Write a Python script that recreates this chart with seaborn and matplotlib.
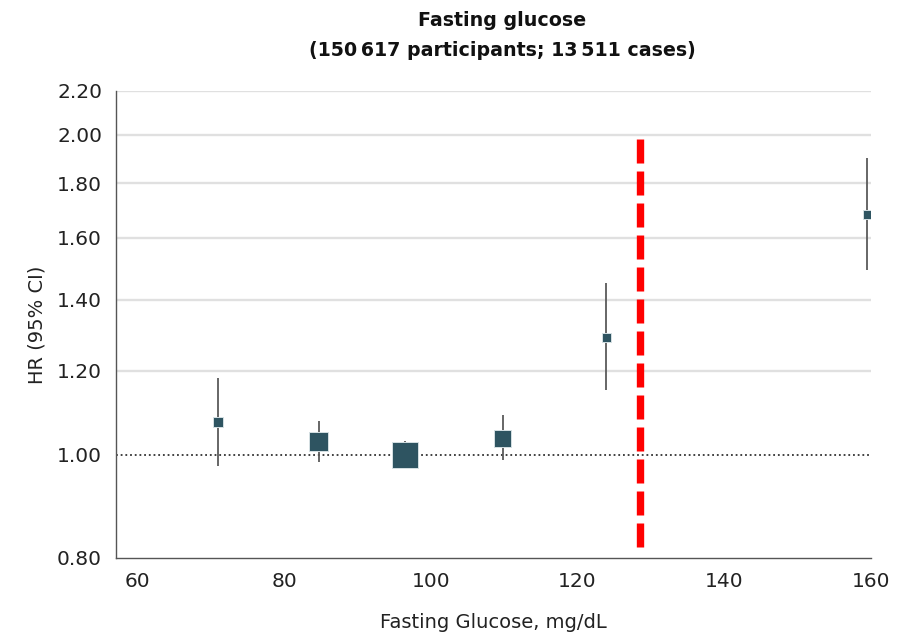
import matplotlib
matplotlib.use("Agg")
import matplotlib.pyplot as plt
import matplotlib.ticker as mticker
import pandas as pd
import seaborn as sns

# glucose categories (median of each group, mg/dL)
glucose = [71.0, 84.7, 96.5, 109.8, 123.9, 159.5]
hr = [1.074, 1.030, 1.000, 1.037, 1.290, 1.683]
ci_low = [0.976, 0.985, 0.972, 0.989, 1.150, 1.491]
ci_high = [1.180, 1.076, 1.030, 1.090, 1.450, 1.900]
# relative weight of each estimate (drawn as marker area)
weight = [14, 51, 100, 41, 11, 10]

threshold = 128.5
y_ticks = [0.80, 1.00, 1.20, 1.40, 1.60, 1.80, 2.00, 2.20]
x_ticks = [60, 80, 100, 120, 140, 160]

title_main = "Fasting glucose"
title_sub = "(150\u2009617 participants; 13\u2009511 cases)"

df = pd.DataFrame({"glucose": glucose, "hr": hr, "lo": ci_low, "hi": ci_high, "weight": weight})

sns.set_style("white")
plt.rcParams["font.family"] = ["DejaVu Sans"]

fig = plt.figure(figsize=(9, 6.38), dpi=100)
ax = fig.add_axes([0.1289, 0.1254, 0.8389, 0.7324])
ax.set_yscale("log")
ax.set_xlim(57.1, 160)
ax.set_ylim(0.80, 2.20)

# light horizontal gridlines above the reference line
grid_vals = [t for t in y_ticks if t > 1.0]
ax.hlines(grid_vals, 57.1, 160, color="#e0e0e0", lw=1.7, zorder=0)
ax.axhline(1.0, color="#333333", lw=1.3, ls=(0, (1, 1.6)), zorder=1)

# confidence intervals
ax.vlines(df["glucose"], df["lo"], df["hi"], color="#5a5a5a", lw=1.3, zorder=2)

sns.scatterplot(data=df, x="glucose", y="hr", size="weight", sizes=(0, 364),
                size_norm=(0, 100), marker="s", color="#2e5461",
                edgecolor="#d5e0e3", linewidth=0.7, legend=False, zorder=3, ax=ax)

ax.axvline(threshold, ymin=0.024, ymax=0.896, color="#ff0000", lw=5.3,
           ls=(0, (3.26, 1.087)), zorder=4)

ax.set_yticks(y_ticks)
ax.yaxis.set_major_formatter(mticker.FixedFormatter([f"{t:.2f}" for t in y_ticks]))
ax.yaxis.set_minor_locator(mticker.NullLocator())
ax.set_xticks(x_ticks)

for side in ["top", "right"]:
    ax.spines[side].set_visible(False)
for side in ["left", "bottom"]:
    ax.spines[side].set_color("#555555")
    ax.spines[side].set_linewidth(1.0)

ax.tick_params(axis="both", which="major", direction="out", length=6, width=1.0,
               color="#555555", labelsize=14.5, labelcolor="#222222")
ax.tick_params(axis="y", pad=4)
ax.tick_params(axis="x", pad=4)

ax.set_xlabel("Fasting Glucose, mg/dL", fontsize=14, color="#222222", labelpad=16)
ax.set_ylabel("HR (95% CI)", fontsize=14, color="#222222", labelpad=8)

fig.text(0.558, 1 - 20 / 638, title_main, ha="center", va="center",
         fontsize=13.7, fontweight="bold", color="#111111")
fig.text(0.558, 1 - 50 / 638, title_sub, ha="center", va="center",
         fontsize=13.7, fontweight="bold", color="#111111")

fig.savefig("out.png", dpi=100)
plt.close(fig)
